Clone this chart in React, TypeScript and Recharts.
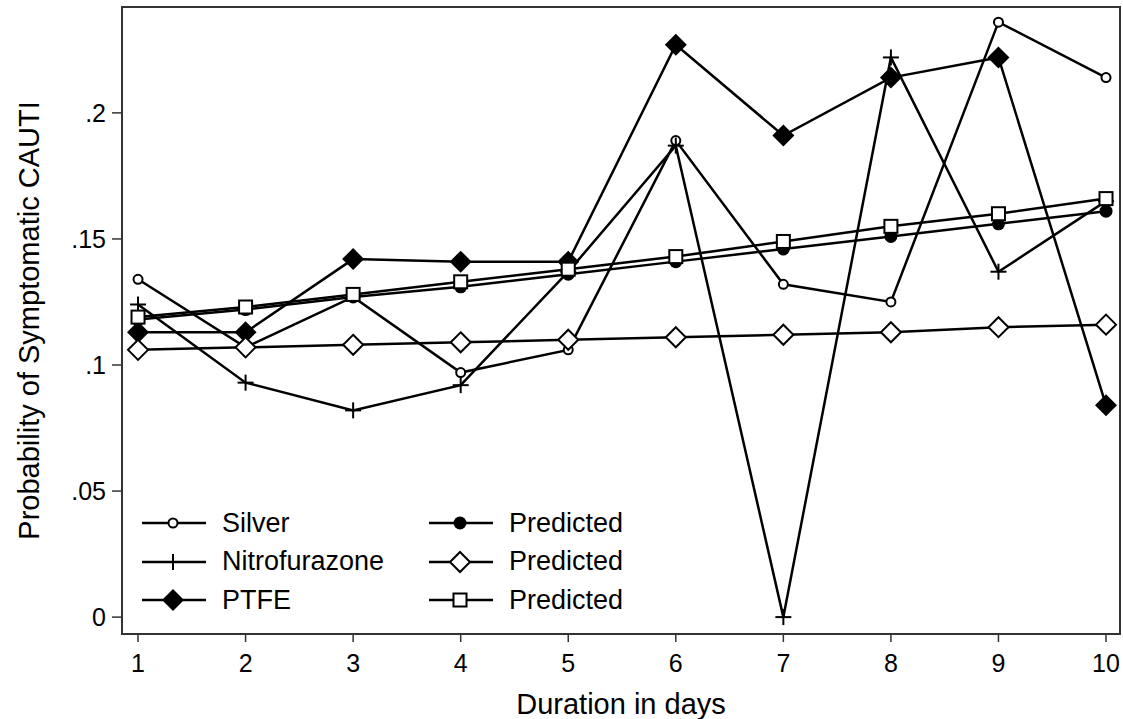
import { LineChart, Line, XAxis, YAxis, ReferenceArea } from 'recharts';

const DAYS = [1, 2, 3, 4, 5, 6, 7, 8, 9, 10];
const SILVER = [0.134, 0.107, 0.127, 0.097, 0.106, 0.189, 0.132, 0.125, 0.236, 0.214];
const NITRO = [0.124, 0.093, 0.082, 0.092, 0.137, 0.187, 0.0, 0.222, 0.137, 0.165];
const PTFE = [0.113, 0.113, 0.142, 0.141, 0.141, 0.227, 0.191, 0.214, 0.222, 0.084];
const PRED_SILVER = [0.118, 0.122, 0.127, 0.131, 0.136, 0.141, 0.146, 0.151, 0.156, 0.161];
const PRED_NITRO = [0.106, 0.107, 0.108, 0.109, 0.11, 0.111, 0.112, 0.113, 0.115, 0.116];
const PRED_PTFE = [0.119, 0.123, 0.128, 0.133, 0.138, 0.143, 0.149, 0.155, 0.16, 0.166];
const X_TICKS = [1, 2, 3, 4, 5, 6, 7, 8, 9, 10];
const Y_TICKS = [0, 0.05, 0.1, 0.15, 0.2];
const X_DOMAIN: [number, number] = [0.851, 10.13];
const Y_DOMAIN: [number, number] = [-0.0067, 0.242];

const data = DAYS.map((d, i) => ({
  day: d,
  silver: SILVER[i],
  nitro: NITRO[i],
  ptfe: PTFE[i],
  predSilver: PRED_SILVER[i],
  predNitro: PRED_NITRO[i],
  predPtfe: PRED_PTFE[i],
}));

const FONT = '"Liberation Sans", Arial, sans-serif';

type MarkerKind = 'hollowCircle' | 'plus' | 'filledDiamond' | 'filledCircle' | 'hollowDiamond' | 'hollowSquare';

function Marker({ kind, cx, cy }: { kind: MarkerKind; cx: number; cy: number }) {
  switch (kind) {
    case 'hollowCircle':
      return <circle cx={cx} cy={cy} r={4.5} fill="#fff" stroke="#000" strokeWidth={2} />;
    case 'plus':
      return (
        <g stroke="#000" strokeWidth={2}>
          <line x1={cx - 8} y1={cy} x2={cx + 8} y2={cy} />
          <line x1={cx} y1={cy - 8} x2={cx} y2={cy + 8} />
        </g>
      );
    case 'filledDiamond':
      return <polygon points={`${cx},${cy - 11} ${cx + 11},${cy} ${cx},${cy + 11} ${cx - 11},${cy}`} fill="#000" />;
    case 'filledCircle':
      return <circle cx={cx} cy={cy} r={6.5} fill="#000" />;
    case 'hollowDiamond':
      return (
        <polygon
          points={`${cx},${cy - 10} ${cx + 10},${cy} ${cx},${cy + 10} ${cx - 10},${cy}`}
          fill="#fff"
          stroke="#000"
          strokeWidth={2}
        />
      );
    case 'hollowSquare':
      return <rect x={cx - 6.5} y={cy - 6.5} width={13} height={13} fill="#fff" stroke="#000" strokeWidth={2} />;
  }
  return null;
}

const dotFor = (kind: MarkerKind) => (props: any) => (
  <Marker key={`${kind}-${props.index}`} kind={kind} cx={props.cx} cy={props.cy} />
);

const SERIES: { key: string; label: string; kind: MarkerKind }[] = [
  { key: 'silver', label: 'Silver', kind: 'hollowCircle' },
  { key: 'nitro', label: 'Nitrofurazone', kind: 'plus' },
  { key: 'ptfe', label: 'PTFE', kind: 'filledDiamond' },
  { key: 'predSilver', label: 'Predicted', kind: 'filledCircle' },
  { key: 'predNitro', label: 'Predicted', kind: 'hollowDiamond' },
  { key: 'predPtfe', label: 'Predicted', kind: 'hollowSquare' },
];

const fmtY = (v: number) => (v === 0 ? '0' : String(v).replace(/^0/, ''));

function LegendItem({ label, kind }: { label: string; kind: MarkerKind }) {
  return (
    <div style={{ display: 'flex', alignItems: 'center', height: 38.5 }}>
      <svg width={70} height={30} style={{ display: 'block' }}>
        <line x1={3} y1={15} x2={67} y2={15} stroke="#000" strokeWidth={2.5} />
        <Marker kind={kind} cx={34} cy={15} />
      </svg>
      <span style={{ marginLeft: 13, fontSize: 27, fontFamily: FONT, color: '#000', whiteSpace: 'nowrap' }}>
        {label}
      </span>
    </div>
  );
}

export default function App() {
  return (
    <div style={{ position: 'absolute', left: 0, top: 0, width: 1123, height: 719, background: '#fff' }}>
      <LineChart
        width={1123}
        height={719}
        data={data}
        margin={{ top: 7, right: 3, bottom: 0, left: 0 }}
        style={{ fontFamily: FONT }}
      >
        <XAxis
          dataKey="day"
          type="number"
          domain={X_DOMAIN}
          ticks={X_TICKS}
          allowDataOverflow
          height={85}
          tickSize={8}
          tickMargin={12}
          axisLine={{ stroke: '#333', strokeWidth: 2 }}
          tickLine={{ stroke: '#333', strokeWidth: 1.5 }}
          tick={{ fill: '#000', fontSize: 25 }}
          label={{ value: 'Duration in days', position: 'insideBottom', offset: 5, fill: '#000', fontSize: 29 }}
        />
        <YAxis
          type="number"
          domain={Y_DOMAIN}
          ticks={Y_TICKS}
          allowDataOverflow
          width={122}
          tickSize={10}
          tickMargin={6}
          tickFormatter={fmtY}
          axisLine={{ stroke: '#333', strokeWidth: 2 }}
          tickLine={{ stroke: '#333', strokeWidth: 1.5 }}
          tick={{ fill: '#000', fontSize: 25 }}
          label={{ value: 'Probability of Symptomatic CAUTI', angle: -90, position: 'center', dx: -32, fill: '#000', fontSize: 29 }}
        />
        <ReferenceArea
          x1={X_DOMAIN[0]}
          x2={X_DOMAIN[1]}
          y1={Y_DOMAIN[0]}
          y2={Y_DOMAIN[1]}
          fill="none"
          stroke="#333"
          strokeWidth={2}
        />
        {SERIES.map((s) => (
          <Line
            key={s.key}
            dataKey={s.key}
            type="linear"
            stroke="#000"
            strokeWidth={2.5}
            dot={dotFor(s.kind)}
            activeDot={false}
            isAnimationActive={false}
          />
        ))}
      </LineChart>
      <div style={{ position: 'absolute', left: 139, top: 504, display: 'flex' }}>
        <div style={{ width: 287 }}>
          {SERIES.slice(0, 3).map((s) => (
            <LegendItem key={s.key} label={s.label} kind={s.kind} />
          ))}
        </div>
        <div>
          {SERIES.slice(3).map((s) => (
            <LegendItem key={s.key} label={s.label} kind={s.kind} />
          ))}
        </div>
      </div>
    </div>
  );
}
